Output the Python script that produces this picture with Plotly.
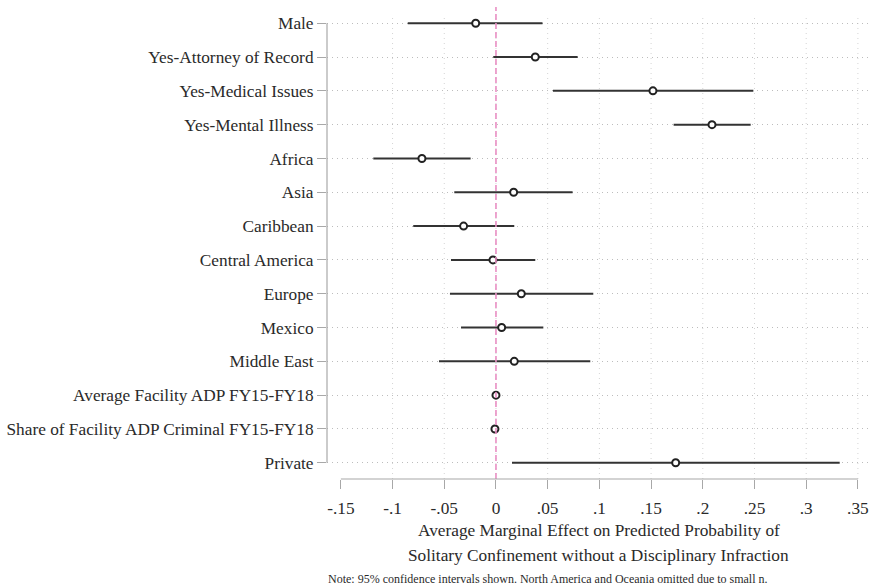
import plotly.graph_objects as go

categories = ["Male", "Yes-Attorney of Record", "Yes-Medical Issues", "Yes-Mental Illness",
              "Africa", "Asia", "Caribbean", "Central America", "Europe", "Mexico",
              "Middle East", "Average Facility ADP FY15-FY18",
              "Share of Facility ADP Criminal FY15-FY18", "Private"]
estimate = [-0.0196, 0.038, 0.1518, 0.2089, -0.0716, 0.0171, -0.0313, -0.0029,
            0.0245, 0.0055, 0.0177, 0.0, -0.001, 0.1738]
ci_low = [-0.0853, -0.0026, 0.0551, 0.1718, -0.1186, -0.0403, -0.080, -0.0435,
          -0.0445, -0.0338, -0.0551, -0.0003, -0.0013, 0.0155]
ci_high = [0.045, 0.079, 0.2489, 0.2463, -0.0245, 0.0741, 0.0177, 0.038,
           0.0941, 0.0458, 0.0912, 0.0003, -0.0007, 0.3324]
x_ticks = [-0.15, -0.1, -0.05, 0, 0.05, 0.1, 0.15, 0.2, 0.25, 0.3, 0.35]
x_tick_labels = ["-.15", "-.1", "-.05", "0", ".05", ".1", ".15", ".2", ".25", ".3", ".35"]
x_title_lines = ["Average Marginal Effect on Predicted Probability of",
                 "Solitary Confinement without a Disciplinary Infraction"]
note_text = "Note: 95% confidence intervals shown. North America and Oceania omitted due to small n."

FONT = "Liberation Serif"
TXT = "#2a2a2a"
AX = "#a8a8a8"
GRID_H = "#bdbdbd"
GRID_V = "#d4d4d4"
FS = 17.3

ypos = list(range(1, len(categories) + 1))

fig = go.Figure()
fig.add_trace(go.Scatter(
    x=estimate, y=ypos, mode="markers",
    marker=dict(symbol="circle", size=7, color="white", line=dict(color="#222222", width=2)),
    error_x=dict(type="data", symmetric=False,
                 array=[h - e for h, e in zip(ci_high, estimate)],
                 arrayminus=[e - l for e, l in zip(estimate, ci_low)],
                 color="#333333", thickness=2, width=0),
    showlegend=False, hoverinfo="skip",
))

shapes = []
# vertical dotted gridlines (Stata omits at axis min)
for v in x_ticks[1:]:
    shapes.append(dict(type="line", xref="x", yref="y domain", x0=v, x1=v, y0=0, y1=0.985,
                       line=dict(color=GRID_V, width=1, dash="1px,4px"), layer="below"))
# zero reference line
shapes.append(dict(type="line", xref="x", yref="y domain", x0=0, x1=0, y0=0, y1=1,
                   line=dict(color="#e98fc4", width=1.6, dash="6px,3px"), layer="above"))
# axis lines spanning ticks
shapes.append(dict(type="line", xref="x domain", yref="y", x0=0, x1=0, y0=ypos[0], y1=ypos[-1],
                   line=dict(color=AX, width=1.2)))
shapes.append(dict(type="line", xref="x", yref="y domain", x0=x_ticks[0], x1=x_ticks[-1], y0=0, y1=0,
                   line=dict(color=AX, width=1.2)))

annotations = []
for i, line in enumerate(x_title_lines):
    annotations.append(dict(text=line, xref="x domain", yref="paper", x=0.5, y=0,
                            yshift=-51 - 25 * i, xanchor="center", yanchor="middle",
                            showarrow=False, font=dict(family=FONT, size=FS, color=TXT)))
annotations.append(dict(text=note_text, xref="paper", yref="paper", x=0, y=0, xshift=-1,
                        yshift=-100, xanchor="left", yanchor="middle", showarrow=False,
                        font=dict(family=FONT, size=12, color=TXT)))

fig.update_layout(
    width=872, height=585,
    margin=dict(l=327, r=2, t=7, b=106),
    paper_bgcolor="white", plot_bgcolor="white",
    font=dict(family=FONT, size=FS, color=TXT),
    shapes=shapes,
    annotations=annotations,
    xaxis=dict(range=[-0.1634, 0.3617], tickvals=x_ticks, ticktext=x_tick_labels,
               showgrid=False, zeroline=False, showline=False,
               ticks="outside", ticklen=9, tickcolor=AX, tickwidth=1.2,
               ticklabelstandoff=4,
               tickfont=dict(family=FONT, size=FS, color=TXT)),
    yaxis=dict(range=[14.48, 0.52], tickvals=ypos, ticktext=categories,
               showgrid=True, gridcolor=GRID_H, griddash="1px,4px", gridwidth=1,
               zeroline=False, showline=False,
               ticks="outside", ticklen=9, tickcolor=AX, tickwidth=1.2,
               tickfont=dict(family=FONT, size=FS, color=TXT)),
)

fig.write_html("out.html")
